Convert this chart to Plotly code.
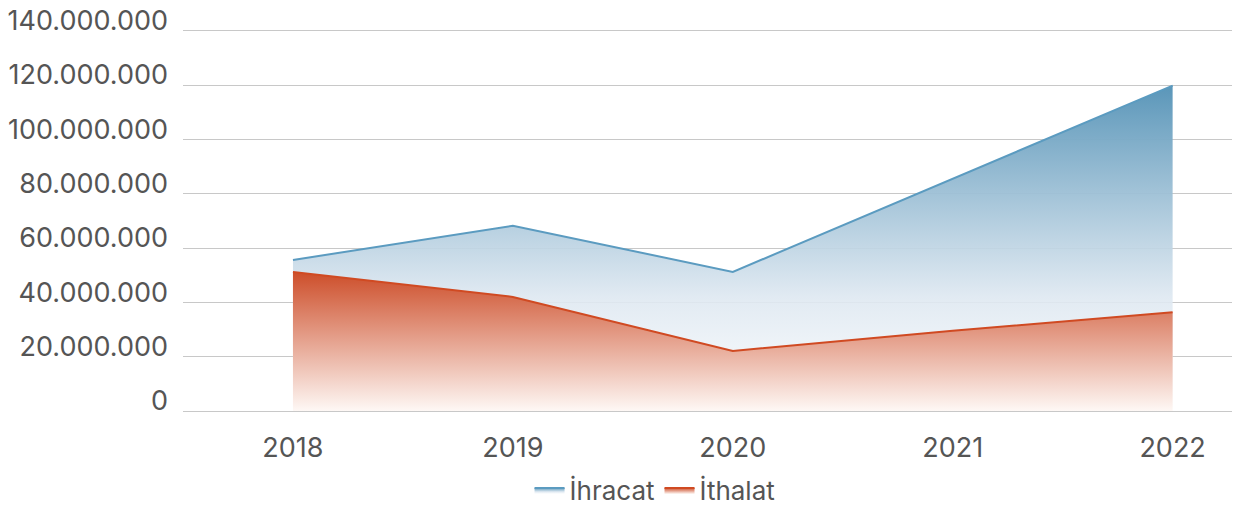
import plotly.graph_objects as go

YEARS = ['2018', '2019', '2020', '2021', '2022']
IHRACAT = [55600000, 68200000, 51200000, 85500000, 119800000]
ITHALAT = [51200000, 42000000, 22100000, 29500000, 36400000]

FONT = 'Inter'
GREY = '#555555'

fig = go.Figure()

fig.add_trace(go.Scatter(
    name='İhracat', x=YEARS, y=IHRACAT, mode='lines',
    line=dict(color='#5b9bc0', width=2),
    fill='tozeroy',
    fillgradient=dict(type='vertical', start=0, stop=max(IHRACAT),
                      colorscale=[[0, 'rgba(255,255,255,0.9)'],
                                  [0.35, 'rgba(222,232,241,0.9)'],
                                  [1, 'rgba(90,150,185,1)']]),
))
fig.add_trace(go.Scatter(
    name='İthalat', x=YEARS, y=ITHALAT, mode='lines',
    line=dict(color='#d04a22', width=2),
    fill='tozeroy',
    fillgradient=dict(type='vertical', start=0, stop=max(ITHALAT),
                      colorscale=[[0, 'rgba(254,248,245,1)'],
                                  [1, 'rgba(205,78,42,1)']]),
))

fig.update_layout(
    width=1234, height=506,
    margin=dict(l=183, r=2, t=28, b=95, autoexpand=False),
    paper_bgcolor='white', plot_bgcolor='white',
    separators=',.',
    font=dict(family=FONT, size=27, color=GREY),
    showlegend=True,
    legend=dict(orientation='h', x=0.45, xanchor='center', y=-0.145, yanchor='top',
                font=dict(size=26, color=GREY), itemwidth=30),
    xaxis=dict(range=[-0.5, 4.27], showgrid=False, zeroline=False, showline=False,
               ticks='', ticklabelstandoff=18, automargin=False,
               tickfont=dict(size=27, color=GREY)),
    yaxis=dict(range=[0, 141000000], tickvals=[i * 20000000 for i in range(8)],
               tickformat=',d',
               showgrid=True, gridcolor='#c8c8c8', gridwidth=1,
               zeroline=True, zerolinecolor='#c8c8c8', zerolinewidth=1,
               ticks='', ticklabelstandoff=14, ticklabelshift=-10, automargin=False,
               ticklabeloverflow='allow',
               tickfont=dict(size=27, color=GREY)),
)

# drop the browser's default 8px body margin so the figure fills the window
fig.write_html('out.html', config={'displayModeBar': False},
               post_script="document.body.style.margin='0';")
